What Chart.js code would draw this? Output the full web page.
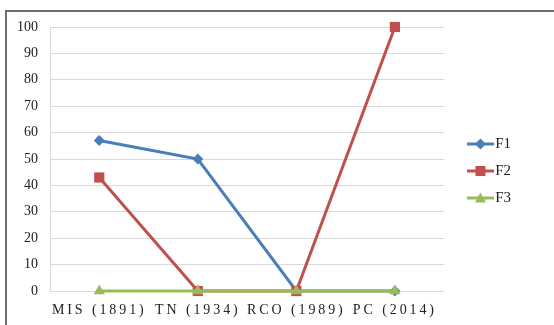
<!DOCTYPE html>
<html><head><meta charset="utf-8">
<script src="https://cdn.jsdelivr.net/npm/chart.js@4.4.1/dist/chart.umd.min.js"></script>
<style>
html,body{margin:0;padding:0;background:#fff;width:554px;height:325px;overflow:hidden}
#frame{position:absolute;left:5px;top:10px;width:600px;height:400px;border:2px solid #6e6e6e;box-sizing:border-box}
canvas{position:absolute;left:0;top:0}
</style></head><body>
<div id="frame"></div>
<canvas id="c" width="554" height="325"></canvas>
<script>
const categories = ['MIS (1891)', 'TN (1934)', 'RCO (1989)', 'PC (2014)'];
const seriesNames = ['F1', 'F2', 'F3'];
const f1Values = [57, 50, 0, 0];
const f2Values = [43, 0, 0, 100];
const f3Values = [0, 0, 0, 0];
const yTicks = [0, 10, 20, 30, 40, 50, 60, 70, 80, 90, 100];

const colors = ['#4A7EBB', '#C0504D', '#9BBB59'];
const styles = ['rectRot', 'rect', 'triangle'];
const radii = [5.5, 7.2, 6.5];
const textColor = '#222';

function legendIcon(color, style) {
  const W = 44, H = 14, x0 = 17, cx = x0 + 13.5;
  const cv = document.createElement('canvas');
  cv.width = W; cv.height = H;
  const g = cv.getContext('2d');
  g.strokeStyle = color; g.lineWidth = 3;
  g.beginPath(); g.moveTo(x0, 7); g.lineTo(W, 7); g.stroke();
  g.fillStyle = color;
  g.beginPath();
  if (style === 'rectRot') { g.moveTo(cx, 1.5); g.lineTo(cx + 5.5, 7); g.lineTo(cx, 12.5); g.lineTo(cx - 5.5, 7); }
  else if (style === 'rect') { g.rect(cx - 5, 2, 10, 10); }
  else { g.moveTo(cx, 1.5); g.lineTo(cx + 5.5, 11.5); g.lineTo(cx - 5.5, 11.5); }
  g.closePath(); g.fill();
  return cv;
}
const icons = colors.map((c, i) => legendIcon(c, styles[i]));

const seriesValues = [f1Values, f2Values, f3Values];
const datasets = seriesNames.map((n, i) => ({
  label: n,
  data: seriesValues[i],
  borderColor: colors[i],
  backgroundColor: colors[i],
  borderWidth: 3,
  pointStyle: styles[i],
  pointRadius: radii[i],
  pointBorderWidth: 0,
  tension: 0,
  clip: false,
  order: 3 - i
}));

const chart = new Chart(document.getElementById('c'), {
  type: 'line',
  data: { labels: categories, datasets },
  options: {
    responsive: false,
    animation: false,
    events: [],
    layout: { padding: { left: 17, right: 33, top: 27, bottom: 4 } },
    plugins: {
      tooltip: { enabled: false },
      legend: {
        position: 'right',
        labels: {
          usePointStyle: true,
          pointStyleWidth: 31.5,
          boxHeight: 14,
          padding: 12,
          color: textColor,
          font: { family: 'Liberation Serif', size: 15 },
          generateLabels: (ch) => ch.data.datasets.map((d, i) => ({
            text: d.label, pointStyle: icons[i], fillStyle: colors[i],
            strokeStyle: colors[i], fontColor: textColor, lineWidth: 0,
            datasetIndex: i, hidden: false
          }))
        }
      }
    },
    scales: {
      x: {
        offset: true,
        afterFit: (s) => { s.height = 30; },
        grid: { display: false, drawTicks: false },
        border: { display: false },
        ticks: { color: textColor, padding: 11, maxRotation: 0, autoSkip: false,
          font: { family: 'Liberation Serif', size: 14 } }
      },
      y: {
        min: 0, max: 100,
        afterFit: (s) => { s.width = 33; },
        afterBuildTicks: (s) => { s.ticks = yTicks.map(v => ({ value: v })); },
        grid: { color: '#d9d9d9', lineWidth: 1, drawTicks: false },
        border: { display: true, color: '#d9d9d9' },
        ticks: { color: textColor, padding: 12,
          font: { family: 'Liberation Serif', size: 14 } }
      }
    }
  },
  plugins: [{
    id: 'legendNudge',
    afterLayout: (ch) => { if (ch.legend) { ch.legend.top -= 3; ch.legend.bottom -= 3; } }
  }]
});
const xs = chart.scales.x;
const origDraw = xs.drawLabels.bind(xs);
xs.drawLabels = function (area) {
  const ctx = chart.ctx; ctx.save(); ctx.letterSpacing = '2.9px'; origDraw(area); ctx.restore();
};
chart.draw();
</script>
</body></html>
